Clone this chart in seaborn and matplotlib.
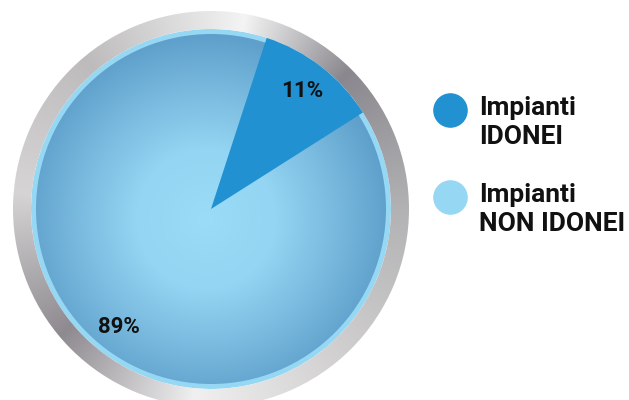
import numpy as np
import matplotlib
matplotlib.use("Agg")
import matplotlib.pyplot as plt
import seaborn as sns
from matplotlib.patches import Circle, Wedge
from matplotlib.colors import to_rgb

# ## data
categories = ["Impianti\nIDONEI", "Impianti\nNON IDONEI"]
values = [11, 89]
palette = ["#2191d1", "#96d8f4"]

sns.set_theme(style="white")
plt.rcParams['font.family'] = ['Roboto', 'DejaVu Sans']

fig = plt.figure(figsize=(6.29, 4.0), dpi=100)
ax = fig.add_axes([0, 0, 1, 1])

cx, cy = 211, 191
r_pie, r_in, r_out = 180, 175, 198

wedges, texts, autotexts = ax.pie(
    values, colors=sns.color_palette(palette), radius=r_pie, center=(cx, cy),
    startangle=72, counterclock=False, autopct=lambda p: f"{p:.0f}%",
    pctdistance=0.83, wedgeprops=dict(linewidth=0),
    textprops=dict(fontsize=16, fontweight='bold', color='#111111'))
wedges[0].set_zorder(3)
wedges[1].set_zorder(1)
for t in autotexts:
    t.set_zorder(5)


def grad_img(keys, cols, tvals):
    cols = np.array([to_rgb(c) for c in cols])
    return np.dstack([np.interp(tvals, keys, cols[:, i]) for i in range(3)])


# radial gradient in the big slice
xs = np.linspace(cx - r_out, cx + r_out, 500)
ys = np.linspace(cy + r_out, cy - r_out, 500)
X, Y = np.meshgrid(xs, ys)
R = np.hypot(X - cx + 5, Y - cy + 10) / r_in
img = grad_img([0, 0.4, 0.72, 1.05], ["#9bdcf7", "#93d5f2", "#7bbbe0", "#5ea0cb"], R)
im = ax.imshow(img, extent=(cx - r_out, cx + r_out, cy - r_out, cy + r_out), zorder=2,
               interpolation='bilinear')
clip = Circle((cx, cy), r_in, transform=ax.transData)
im.set_clip_path(clip)

# metallic ring
ang = (np.degrees(np.arctan2(X - cx, Y - cy)) + 360) % 360
ring = grad_img([0, 10, 45, 90, 140, 185, 230, 275, 320, 360],
                ["#e8e8e8", "#f4f4f4", "#8a888e", "#b2b2b4", "#d2d0d0", "#f0f0f0",
                 "#8e8a90", "#d6d4d4", "#bdbbbb", "#e8e8e8"], ang)
im2 = ax.imshow(ring, extent=(cx - r_out, cx + r_out, cy - r_out, cy + r_out), zorder=2,
                interpolation='bilinear')
im2.set_clip_path(Wedge((cx, cy), r_out, 0, 360, width=r_out - r_pie, transform=ax.transData))

# legend
leg_y = [290, 203]
for lab, col, y in zip(categories, palette, leg_y):
    ax.scatter([450], [y], s=620, color=col, linewidth=0, zorder=5)
    ax.text(479, y + 14, lab, fontsize=19, fontweight='bold', color='#111111',
            va='top', ha='left', linespacing=1.25)

ax.set_xlim(0, 629)
ax.set_ylim(0, 400)
ax.set_aspect('equal')
ax.axis('off')
fig.savefig("out.png", dpi=100, facecolor='white')
